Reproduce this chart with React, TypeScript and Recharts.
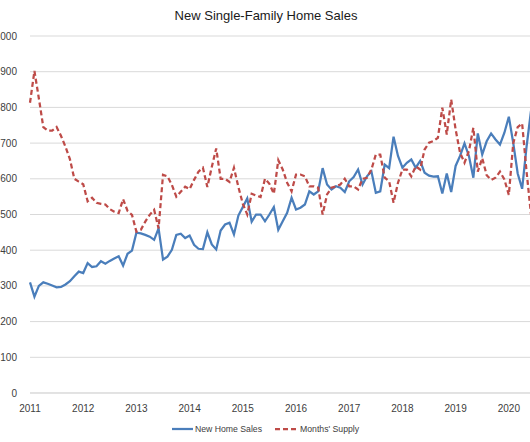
import { LineChart, Line, XAxis, YAxis, CartesianGrid, Legend } from 'recharts';

const startYear = 2011;

// monthly, Jan 2011 onwards (thousands, SAAR)
const newHomeSales = [
  310, 270, 300, 310, 306, 301, 296, 297, 304, 313, 327, 340,
  336, 364, 353, 355, 369, 362, 370, 377, 383, 357, 390, 399,
  449, 447, 443, 438, 429, 461, 374, 382, 401, 443, 446, 434,
  441, 415, 404, 403, 450, 416, 402, 455, 472, 477, 444, 497,
  521, 545, 480, 500, 500, 481, 500, 521, 457, 481, 505, 547,
  514, 519, 528, 565, 556, 565, 630, 584, 570, 579, 575, 563,
  593, 605, 626, 584, 607, 621, 561, 565, 640, 630, 718, 664,
  631, 645, 654, 631, 650, 617, 609, 606, 607, 559, 615, 563,
  636, 664, 699, 664, 603, 727, 668, 705, 727, 710, 696, 729,
  774, 700, 615, 572, 690, 790,
];

// months' supply x 100
const monthsSupply = [
  813, 902, 825, 745, 735, 735, 745, 720, 690, 655, 600, 592,
  585, 537, 547, 533, 530, 528, 515, 508, 504, 543, 510, 499,
  452, 457, 480, 499, 513, 461, 611, 607, 583, 550, 564, 578,
  571, 597, 620, 631, 577, 633, 685, 600, 600, 591, 631, 577,
  530, 500, 558, 553, 549, 600, 586, 558, 652, 626, 589, 565,
  612, 612, 607, 579, 579, 575, 500, 556, 575, 579, 584, 600,
  579, 579, 570, 600, 603, 626, 668, 668, 603, 593, 533, 589,
  626, 626, 607, 635, 626, 682, 701, 706, 715, 799, 724, 822,
  738, 673, 645, 678, 743, 620, 658, 610, 597, 603, 620, 598,
  555, 700, 745, 755, 620, 500,
];

const yearTicks = ['2011', '2012', '2013', '2014', '2015', '2016', '2017', '2018', '2019', '2020'];
const valueTicks = [0, 100, 200, 300, 400, 500, 600, 700, 800, 900, 1000];

const months = newHomeSales.map(
  (_, i) => `${startYear + Math.floor(i / 12)}-${String((i % 12) + 1).padStart(2, '0')}`
);

const data = months.map((month, i) => ({
  month,
  sales: newHomeSales[i],
  supply: monthsSupply[i],
}));

const FONT = "'Liberation Sans', Arial, sans-serif";
const BLUE = '#4a7ebb';
const RED = '#be4b48';

function SeriesLegend() {
  return (
    <div
      style={{
        display: 'flex',
        justifyContent: 'center',
        alignItems: 'center',
        height: 22,
        fontFamily: FONT,
        fontSize: 8.7,
        color: '#404040',
      }}
    >
      <svg width={21} height={4} style={{ marginRight: 2 }}>
        <line x1={0} y1={2} x2={21} y2={2} stroke={BLUE} strokeWidth={2.25} />
      </svg>
      <span>New Home Sales</span>
      <svg width={22} height={4} style={{ marginLeft: 13, marginRight: 3 }}>
        <line x1={0} y1={2} x2={22} y2={2} stroke={RED} strokeWidth={2.25} strokeDasharray="5 3" />
      </svg>
      <span>Months' Supply</span>
    </div>
  );
}

export default function App() {
  return (
    <div
      style={{
        position: 'absolute',
        left: 0,
        top: 0,
        width: 530,
        height: 442,
        overflow: 'hidden',
        background: '#fff',
      }}
    >
      <div
        style={{
          position: 'absolute',
          top: 7,
          left: 0,
          width: 532,
          textAlign: 'center',
          fontFamily: FONT,
          fontSize: 13,
          lineHeight: '18px',
          color: '#1a1a1a',
        }}
      >
        New Single-Family Home Sales
      </div>
      <LineChart
        width={540}
        height={442}
        data={data}
        margin={{ top: 36, right: 9, bottom: 2, left: 0 }}
      >
        <CartesianGrid vertical={false} stroke="#d9d9d9" />
        <XAxis
          dataKey="month"
          ticks={yearTicks.map((y) => `${y}-01`)}
          interval={0}
          tickFormatter={(v: string) => v.slice(0, 4)}
          height={25}
          tickLine={false}
          tickSize={0}
          tickMargin={12}
          axisLine={{ stroke: '#d9d9d9' }}
          tick={{ fill: '#404040', fontSize: 10, fontFamily: FONT }}
        />
        <YAxis
          domain={[0, 1000]}
          ticks={valueTicks}
          width={30}
          axisLine={false}
          tickLine={false}
          tickSize={0}
          tickMargin={13}
          tick={{ fill: '#404040', fontSize: 10, fontFamily: FONT }}
        />
        <Legend verticalAlign="bottom" content={() => <SeriesLegend />} />
        <Line
          type="linear"
          dataKey="sales"
          name="New Home Sales"
          stroke={BLUE}
          strokeWidth={2.25}
          dot={false}
          isAnimationActive={false}
        />
        <Line
          type="linear"
          dataKey="supply"
          name="Months' Supply"
          stroke={RED}
          strokeWidth={2.25}
          strokeDasharray="5 3"
          dot={false}
          isAnimationActive={false}
        />
      </LineChart>
    </div>
  );
}
